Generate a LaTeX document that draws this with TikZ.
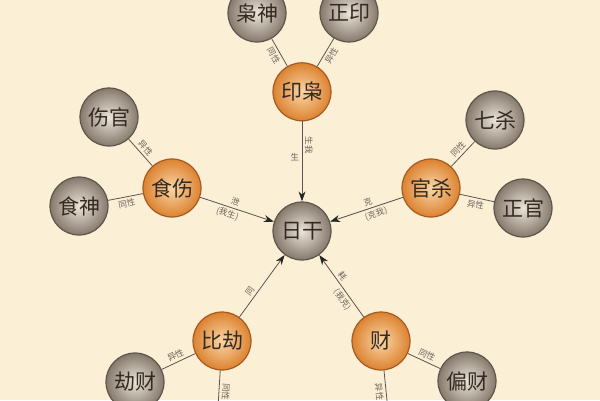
\documentclass[tikz,border=0pt]{standalone}
\usepackage{fontspec}
\newfontfamily\cjk{Noto Sans CJK SC}
\usepackage{tikz}
\usetikzlibrary{arrows.meta, positioning}
\definecolor{paper}{HTML}{FBEFD6}
\definecolor{ballgray}{HTML}{85796B}
\definecolor{ballgraylight}{HTML}{ECE4DA}
\definecolor{ballorange}{HTML}{DC8230}
\definecolor{ballorangelight}{HTML}{FAD6A6}
\definecolor{rimgray}{HTML}{5E564C}
\definecolor{rimorange}{HTML}{A45A22}
\definecolor{wire}{HTML}{5C554E}
\definecolor{ink}{HTML}{342A22}
\definecolor{faint}{HTML}{6E645A}

\begin{document}
\begin{tikzpicture}[x=1pt, y=1pt,
    god/.style={circle, minimum size=58pt, inner sep=0pt, line width=1.2pt, draw=rimgray,
        inner color=ballgraylight, outer color=ballgray, text=ink, font=\cjk\fontsize{21}{21}\selectfont},
    group/.style={god, draw=rimorange, inner color=ballorangelight, outer color=ballorange},
    tie/.style={draw=wire, line width=0.8pt},
    flow/.style={tie, -{Stealth[length=10pt, width=7pt, color=black!85]}},
    tag/.style={font=\cjk\fontsize{8.5}{8.5}\selectfont, text=faint, inner sep=2.5pt}]
    \useasboundingbox (0,0) rectangle (600,400);
    \clip (0,0) rectangle (600,400);
    \fill[paper] (0,0) rectangle (600,400);

    % day master in the middle
    \node[god] (rigan) at (302,169) {日干};

    % five groups round it
    \node[group, above=80pt of rigan] (yinxiao) {印枭};
    \node[group] (shishang) at (172,212) {食伤};
    \node[group] (guansha) at (431,212) {官杀};
    \node[group] (bijie) at (222,59) {比劫};
    \node[group] (cai) at (381,59) {财};

    % outer gods
    \node[god] (xiaoshen) at (257,387) {枭神};
    \node[god] (zhengyin) at (349,387) {正印};
    \node[god] (shangguan) at (109,283) {伤官};
    \node[god] (shishen) at (79,194) {食神};
    \node[god] (qisha) at (495,280) {七杀};
    \node[god] (zhengguan) at (523,192) {正官};
    \node[god] (jiecai) at (135,18) {劫财};
    \node[god] (piancai) at (467,19) {偏财};
    \coordinate (bijiedown) at (216,-40);
    \coordinate (caidown) at (391,-40);

    % same / other sex
    \draw[tie] (xiaoshen) -- node[tag, sloped, below] {同性} (yinxiao);
    \draw[tie] (yinxiao) -- node[tag, sloped, below] {异性} (zhengyin);
    \draw[tie] (shangguan) -- node[tag, sloped, above] {异性} (shishang);
    \draw[tie] (shishen) -- node[tag, sloped, below] {同性} (shishang);
    \draw[tie] (guansha) -- node[tag, sloped, above] {同性} (qisha);
    \draw[tie] (guansha) -- node[tag, sloped, below] {异性} (zhengguan);
    \draw[tie] (jiecai) -- node[tag, sloped, above] {异性} (bijie);
    \draw[tie] (bijie) -- node[tag, sloped, allow upside down, above, pos=0.3] {同性} (bijiedown);
    \draw[tie] (cai) -- node[tag, sloped, above] {同性} (piancai);
    \draw[tie] (cai) -- node[tag, sloped, below, pos=0.3] {异性} (caidown);

    % relations to the day master
    \draw[flow] (yinxiao) -- node[tag, left, pos=0.45] {生}
        node[tag, sloped, allow upside down, above, pos=0.3] {生我} (rigan);
    \draw[flow] (shishang) -- node[tag, sloped, above, pos=0.45] {泄}
        node[tag, sloped, below, pos=0.4] {(我生)} (rigan);
    \draw[flow] (guansha) -- node[tag, sloped, above, pos=0.45] {克}
        node[tag, sloped, below, pos=0.4] {(克我)} (rigan);
    \draw[flow] (bijie) -- node[tag, sloped, above, pos=0.35] {同} (rigan);
    \draw[flow] (cai) -- node[tag, sloped, above, pos=0.6] {耗}
        node[tag, sloped, below, pos=0.35] {(我克)} (rigan);
\end{tikzpicture}
\end{document}
